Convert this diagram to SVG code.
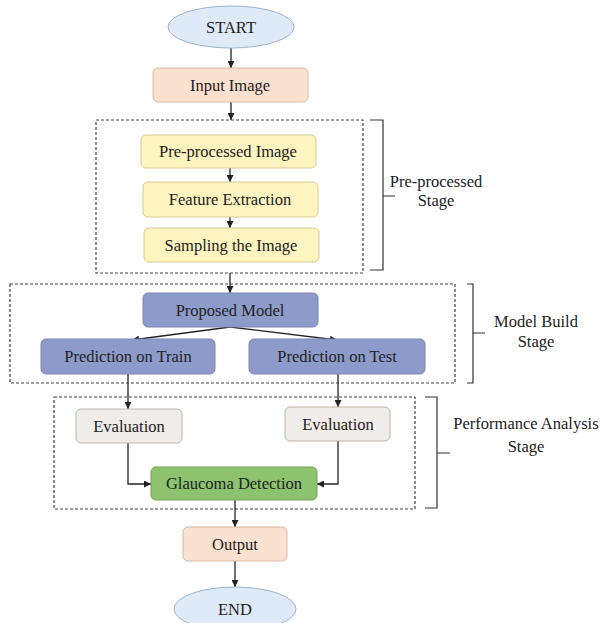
<svg xmlns="http://www.w3.org/2000/svg" width="601" height="623" viewBox="0 0 601 623">
<defs>
<style>
text{font-family:"Liberation Serif","Times New Roman",serif;font-size:16.5px;fill:#222;text-anchor:middle}
.ell{fill:#deeaf7;stroke:#9db3cc;stroke-width:1}
.peach{fill:#fbe1cf;stroke:#d7b7a2;stroke-width:1}
.yel{fill:#fdf4c0;stroke:#d9ca8e;stroke-width:1}
.blue{fill:#8d9bcb;stroke:#7a87b8;stroke-width:1}
.gray{fill:#f0ece9;stroke:#bcb4ae;stroke-width:1}
.green{fill:#8dc36e;stroke:#72a457;stroke-width:1}
.dash{fill:none;stroke:#444;stroke-width:1.2;stroke-dasharray:3 2}
.br{fill:none;stroke:#333;stroke-width:1.2}
.ln{fill:none;stroke:#222;stroke-width:1.3}
.arr{fill:none;stroke:#222;stroke-width:1.3;marker-end:url(#ah)}
</style>
<marker id="ah" viewBox="0 0 10 10" refX="10" refY="5" markerWidth="7" markerHeight="7" markerUnits="userSpaceOnUse" orient="auto">
<path d="M0,0 L10,5 L0,10 z" fill="#222"/>
</marker>
</defs>
<g id="stages">
<rect class="dash" x="96" y="120" width="267" height="153"/>
<rect class="dash" x="10" y="284" width="445" height="99"/>
<rect class="dash" x="54" y="397" width="361" height="112"/>
<path class="br" d="M370,120 H383 V196 M383,196 H395 M383,196 V270 H370"/>
<path class="br" d="M467,284 H473 V333 M473,333 H485 M473,333 V383 H467"/>
<path class="br" d="M425,397 H437 V453 M437,453 H450 M437,453 V508 H425"/>
<text x="436" y="187">Pre-processed</text>
<text x="436" y="206">Stage</text>
<text x="536" y="327">Model Build</text>
<text x="536" y="347">Stage</text>
<text x="526" y="429">Performance Analysis</text>
<text x="526" y="452">Stage</text>
</g>
<g id="connectors">
<path class="arr" d="M231,48 V68"/>
<path class="arr" d="M231,102 V120"/>
<path class="arr" d="M230,168 V182"/>
<path class="arr" d="M230,217 V228"/>
<path class="arr" d="M230,273 V293"/>
<path class="arr" d="M230,327 L132,340"/>
<path class="arr" d="M230,327 L337,340"/>
<path class="arr" d="M128,374 V409"/>
<path class="arr" d="M338,374 V407"/>
<path class="arr" d="M128,443 V484 H151"/>
<path class="arr" d="M338,441 V484 H317"/>
<path class="arr" d="M235,500 V527"/>
<path class="arr" d="M235,561 V587"/>
</g>
<g id="start"><ellipse class="ell" cx="231" cy="27" rx="63" ry="21"/><text x="231" y="33">START</text></g>
<g id="input"><rect class="peach" x="153" y="68" width="155" height="34" rx="5"/><text x="230" y="91">Input Image</text></g>
<g id="preimg"><rect class="yel" x="141" y="135" width="175" height="33" rx="5"/><text x="228" y="157">Pre-processed Image</text></g>
<g id="feat"><rect class="yel" x="143" y="182" width="175" height="35" rx="5"/><text x="230" y="205">Feature Extraction</text></g>
<g id="samp"><rect class="yel" x="144" y="228" width="175" height="34" rx="5"/><text x="231" y="251">Sampling the Image</text></g>
<g id="model"><rect class="blue" x="143" y="293" width="175" height="34" rx="5"/><text x="230" y="316">Proposed Model</text></g>
<g id="train"><rect class="blue" x="41" y="339" width="174" height="35" rx="5"/><text x="128" y="362">Prediction on Train</text></g>
<g id="test"><rect class="blue" x="249" y="339" width="176" height="35" rx="5"/><text x="337" y="362">Prediction on Test</text></g>
<g id="eval1"><rect class="gray" x="76" y="409" width="106" height="34" rx="5"/><text x="129" y="432">Evaluation</text></g>
<g id="eval2"><rect class="gray" x="285" y="407" width="105" height="34" rx="5"/><text x="338" y="430">Evaluation</text></g>
<g id="glaucoma"><rect class="green" x="151" y="467" width="166" height="33" rx="5"/><text x="234" y="489">Glaucoma Detection</text></g>
<g id="output"><rect class="peach" x="183" y="527" width="104" height="34" rx="5"/><text x="235" y="550">Output</text></g>
<g id="end"><ellipse class="ell" cx="235" cy="609" rx="61" ry="22"/><text x="235" y="615">END</text></g>
</svg>
